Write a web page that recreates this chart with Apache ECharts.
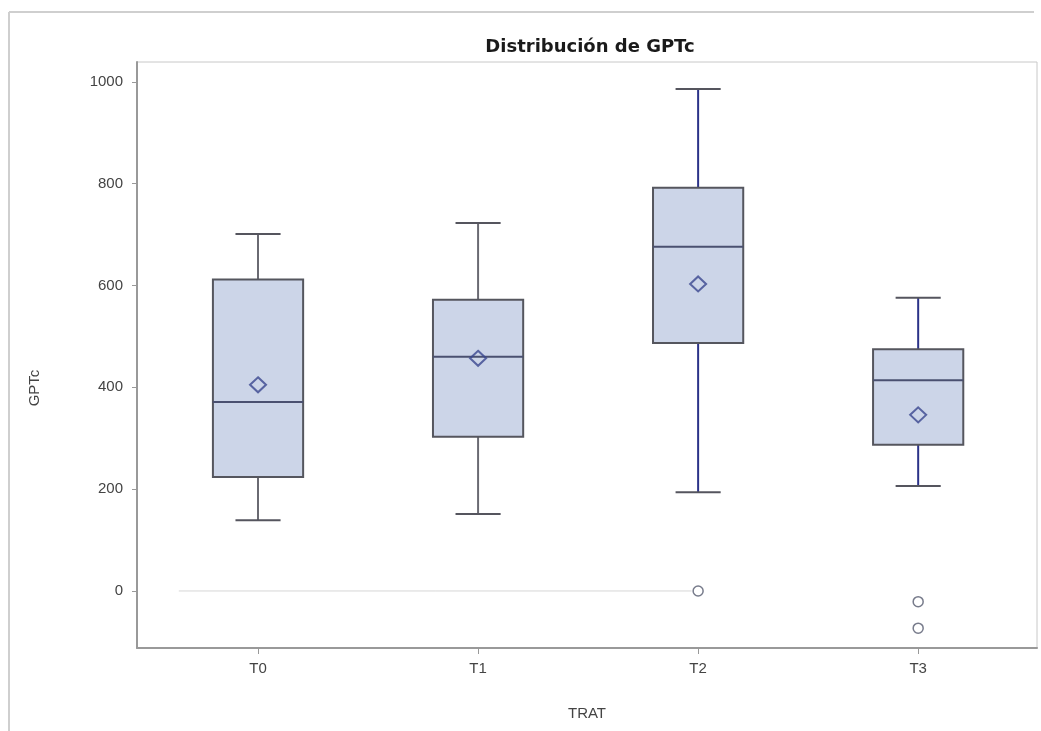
<!DOCTYPE html>
<html>
<head>
<meta charset="utf-8">
<script src="https://cdn.jsdelivr.net/npm/echarts@6/dist/echarts.min.js"></script>
<style>
html,body{margin:0;padding:0;background:#fff;}
#chart{width:1041px;height:731px;}
</style>
</head>
<body>
<div id="chart"></div>
<script>
// ---- data ----
const categories = ['T0', 'T1', 'T2', 'T3'];
const lowWhisker = [139, 151, 194, 206];
const q1 = [224, 303, 487, 287];
const median = [371, 460, 676, 414];
const q3 = [612, 572, 792, 475];
const highWhisker = [701, 723, 986, 576];
const means = [405, 457, 603, 346];
const outliers = [[2, 0], [3, -21], [3, -73]];
const zeroLine = [[-0.36, 0], [1.97, 0]];
const yTicks = [0, 200, 400, 600, 800, 1000];

// ---- styles ----
const whiskerColors = ['#6a6a72', '#6a6a72', '#2b3288', '#2b3288'];

const boxData = categories.map((c, i) => [i, lowWhisker[i], q1[i], median[i], q3[i], highWhisker[i]]);
const meanData = categories.map((c, i) => [i, means[i]]);

const chart = echarts.init(document.getElementById('chart'));

function renderBox(params, api) {
  const idx = api.value(0);
  const lo = api.coord([idx, api.value(1)]);
  const b1 = api.coord([idx, api.value(2)]);
  const md = api.coord([idx, api.value(3)]);
  const b3 = api.coord([idx, api.value(4)]);
  const hi = api.coord([idx, api.value(5)]);
  const w = api.size([0.41, 0])[0];
  const cw = w / 2;
  const x = lo[0];
  const wc = whiskerColors[idx];
  return {
    type: 'group',
    children: [
      {type: 'line', shape: {x1: x, y1: hi[1], x2: x, y2: b3[1]}, style: {stroke: wc, lineWidth: 2}},
      {type: 'line', shape: {x1: x, y1: b1[1], x2: x, y2: lo[1]}, style: {stroke: wc, lineWidth: 2}},
      {type: 'line', shape: {x1: x - cw / 2, y1: hi[1], x2: x + cw / 2, y2: hi[1]}, style: {stroke: '#55555e', lineWidth: 2}},
      {type: 'line', shape: {x1: x - cw / 2, y1: lo[1], x2: x + cw / 2, y2: lo[1]}, style: {stroke: '#55555e', lineWidth: 2}},
      {type: 'rect', shape: {x: x - w / 2, y: b3[1], width: w, height: b1[1] - b3[1]},
        style: {fill: '#ccd5e8', stroke: '#55565e', lineWidth: 2}},
      {type: 'line', shape: {x1: x - w / 2, y1: md[1], x2: x + w / 2, y2: md[1]}, style: {stroke: '#4a5070', lineWidth: 2}}
    ]
  };
}

chart.setOption({
  backgroundColor: '#ffffff',
  animation: false,
  title: {
    text: 'Distribución de GPTc',
    left: 585, top: 33, textAlign: 'center',
    textStyle: {fontFamily: 'DejaVu Sans', fontWeight: 'bold', fontSize: 18, color: '#1a1a1a'}
  },
  graphic: [
    {type: 'line', shape: {x1: 9, y1: 12, x2: 1034, y2: 12}, style: {stroke: '#cfcfcf', lineWidth: 2}},
    {type: 'line', shape: {x1: 9, y1: 12, x2: 9, y2: 731}, style: {stroke: '#cfcfcf', lineWidth: 2}},
    {type: 'text', x: 35, y: 388, rotation: Math.PI / 2,
      style: {text: 'GPTc', align: 'center', verticalAlign: 'middle', fontFamily: 'Liberation Sans', fontSize: 15, fill: '#444'}}
  ],
  grid: {left: 137, right: 4, top: 62, bottom: 83, show: true, borderColor: '#c8c8c8', borderWidth: 1, outerBoundsMode: 'none'},
  xAxis: {
    type: 'value', min: -0.55, max: 3.54,
    name: 'TRAT', nameLocation: 'middle', nameGap: 58,
    nameTextStyle: {fontFamily: 'Liberation Sans', fontSize: 15, color: '#444'},
    axisLine: {show: true, onZero: false, lineStyle: {color: '#999', width: 2}},
    axisTick: {show: true, length: 6, customValues: [0, 1, 2, 3], lineStyle: {color: '#999'}},
    axisLabel: {customValues: [0, 1, 2, 3], formatter: v => categories[Math.round(v)], margin: 13,
      fontFamily: 'Liberation Sans', fontSize: 15, color: '#444'},
    splitLine: {show: false}
  },
  yAxis: {
    type: 'value', min: -112, max: 1039,
    axisLine: {show: true, onZero: false, lineStyle: {color: '#999', width: 2}},
    axisTick: {show: true, length: 5, customValues: yTicks, lineStyle: {color: '#999'}},
    axisLabel: {customValues: yTicks, formatter: v => String(Math.round(v)), margin: 14,
      fontFamily: 'Liberation Sans', fontSize: 15, color: '#444'},
    splitLine: {show: false}
  },
  series: [
    {type: 'line', data: zeroLine, symbol: 'none', lineStyle: {color: '#d6d6d6', width: 1}, z: 1, silent: true},
    {type: 'custom', renderItem: renderBox, data: boxData, encode: {x: 0, y: [1, 2, 3, 4, 5]}, z: 2},
    {type: 'scatter', data: meanData, symbol: 'diamond', symbolSize: [16, 15],
      itemStyle: {color: 'rgba(0,0,0,0)', borderColor: '#3a468f', borderWidth: 2}, z: 5},
    {type: 'scatter', data: outliers, symbol: 'circle', symbolSize: 10,
      itemStyle: {color: 'rgba(0,0,0,0)', borderColor: '#555a6e', borderWidth: 1.5}, z: 5}
  ]
});
</script>
</body>
</html>
